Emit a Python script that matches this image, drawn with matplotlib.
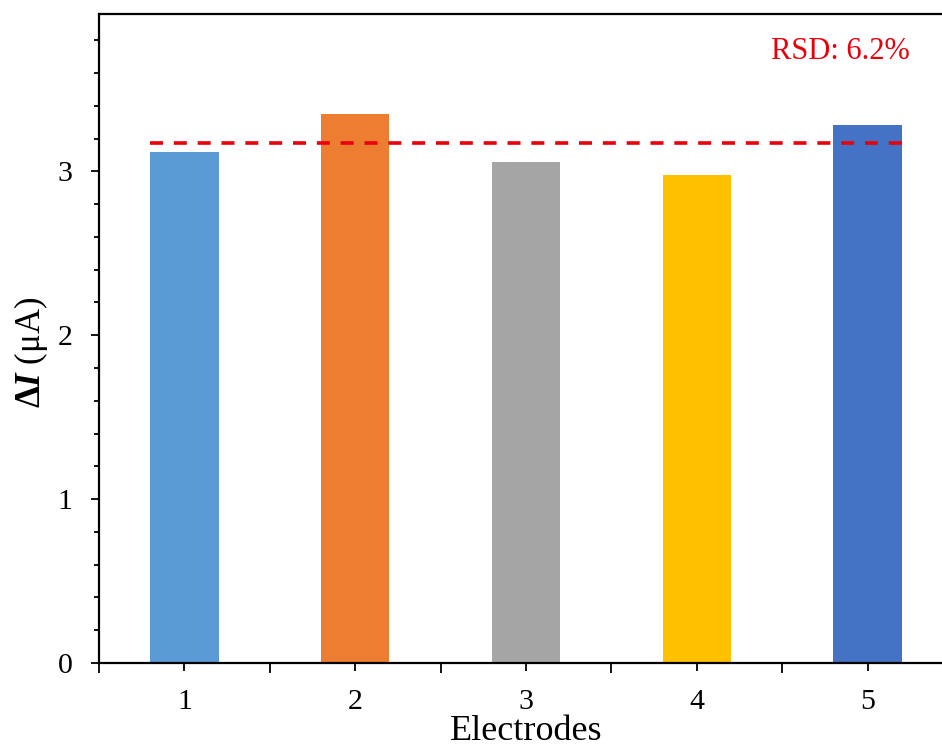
import numpy as np
import matplotlib
matplotlib.use("Agg")
import matplotlib.pyplot as plt
from matplotlib.ticker import MultipleLocator, FixedLocator

plt.rcParams['font.family'] = ['Liberation Serif', 'DejaVu Serif']
plt.rcParams['mathtext.fontset'] = 'custom'
plt.rcParams['mathtext.rm'] = 'Liberation Serif'
plt.rcParams['mathtext.bf'] = 'Liberation Serif:bold'
plt.rcParams['mathtext.bfit'] = 'Liberation Serif:bold:italic'

# data
electrodes = [1, 2, 3, 4, 5]
delta_i = [3.12, 3.35, 3.06, 2.98, 3.28]
bar_colors = ['#5B9BD5', '#ED7D31', '#A5A5A5', '#FFC000', '#4472C4']
mean_line = 3.17
rsd_text = 'RSD: 6.2%'

fig = plt.figure(figsize=(9.42, 7.49), dpi=100)
ax = fig.add_axes([99 / 942, 86 / 749, 854 / 942, 649 / 749])

ax.bar(electrodes, delta_i, width=0.4, color=bar_colors)
ax.plot([0.8, 5.2], [mean_line, mean_line], color='#E8000B', lw=2.6,
        linestyle=(0, (3.6, 3.0)))
ax.text(4.84, 3.73, rsd_text, color='#E8000B', fontsize=22, ha='center', va='center')

ax.set_xlim(0.5, 5.5)
ax.set_ylim(0, 3.96)

ax.yaxis.set_major_locator(MultipleLocator(1))
ax.yaxis.set_minor_locator(MultipleLocator(0.2))
ax.xaxis.set_major_locator(FixedLocator(electrodes))
ax.xaxis.set_minor_locator(FixedLocator(np.arange(0.5, 6, 1)))

ax.tick_params(axis='both', which='major', direction='out', length=6, width=1.3,
               labelsize=21.5, pad=13)
ax.tick_params(axis='y', which='minor', direction='out', length=3.5, width=1.3)
ax.tick_params(axis='x', which='minor', direction='out', length=7, width=1.3)

for s in ['left', 'bottom', 'top']:
    ax.spines[s].set_linewidth(1.6)
ax.spines['right'].set_visible(False)

ax.set_xlabel('Electrodes', fontsize=26, labelpad=0)
ax.set_ylabel(r'$\mathbf{\Delta}\mathbfit{I}$ (μA)', fontsize=25)
ax.yaxis.set_label_coords(-0.057, 0.479)

fig.savefig('out.png', dpi=100)
